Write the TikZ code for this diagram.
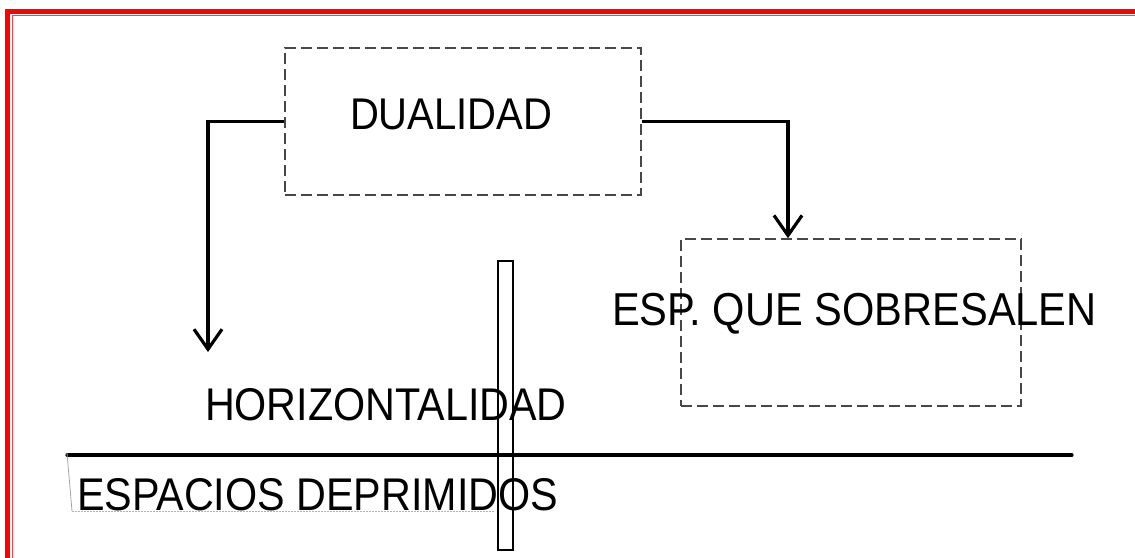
\documentclass[tikz,border=0pt]{standalone}
\usepackage{fontspec}
\usepackage{graphicx}
\setmainfont{Liberation Sans}
\usetikzlibrary{arrows.meta}
\newcommand{\dtxt}[2][41.3]{\fontsize{#1pt}{#1pt}\selectfont\scalebox{1}[1.11]{#2}}
\tikzset{
  dbox/.style={draw=black!72, line width=1.6pt, dash pattern=on 11pt off 5pt, inner sep=0pt},
  conn/.style={draw=black, line width=3.2pt, -{Straight Barb[length=20pt,width=28pt]}},
  lbl/.style={anchor=base west, inner sep=0pt, outer sep=0pt},
  frameout/.style={draw=red, line width=5pt},
  framein/.style={draw=red!75, line width=1pt},
}
\begin{document}
\begin{tikzpicture}[x=1pt,y=-1pt]
\useasboundingbox[fill=white] (0,0) rectangle (1135,557);
% red page frame
\draw[frameout] (7.5,560) -- (7.5,11) -- (1140,11);
\draw[framein] (12.5,560) -- (12.5,15.2) -- (1140,15.2);
% boxes
\node[dbox, minimum width=356pt, minimum height=147pt] (dual) at (463,121.5) {};
\node[dbox, minimum width=340pt, minimum height=167pt] (esp) at (851,322.5) {};
% labels
\node[lbl] (tdual) at (350,129) {\dtxt[40]{DUALIDAD}};
\node[lbl] (tesp) at (612,325) {\dtxt[41.6]{ESP. QUE SOBRESALEN}};
\node[lbl] (thor) at (205,420) {\dtxt{HORIZONTALIDAD}};
% horizontal ground line
\coordinate (gl) at (67,455);
\coordinate (gr) at (1072,455);
\draw[line width=3.2pt, line cap=round] (gl) -- (gr);
% faint text-box remnants under ESPACIOS DEPRIMIDOS
\coordinate (fb1) at (72,511);
\coordinate (fb2) at (495,511);
\draw[black!35, line width=0.8pt] ([yshift=2pt]gl) -- (fb1);
\draw[black!30, line width=0.8pt, dash pattern=on 2pt off 1pt] (fb1) -- (fb2);
\node[lbl] (tdep) at (77,510) {\dtxt{ESPACIOS DEPRIMIDOS}};
% vertical narrow rectangle
\node[draw=black, line width=2.4pt, minimum width=15pt, minimum height=289pt, inner sep=0pt] (bar) at (505.5,405.5) {};
% connectors
\coordinate (lc) at (208,121.5);
\coordinate (lend) at (208,352);
\draw[conn] (dual.west) -- (lc) -- (lend);
\coordinate (rc) at (788,121.5);
\draw[conn] (dual.east) -- (rc) -- (rc |- esp.north);
\end{tikzpicture}
\end{document}
